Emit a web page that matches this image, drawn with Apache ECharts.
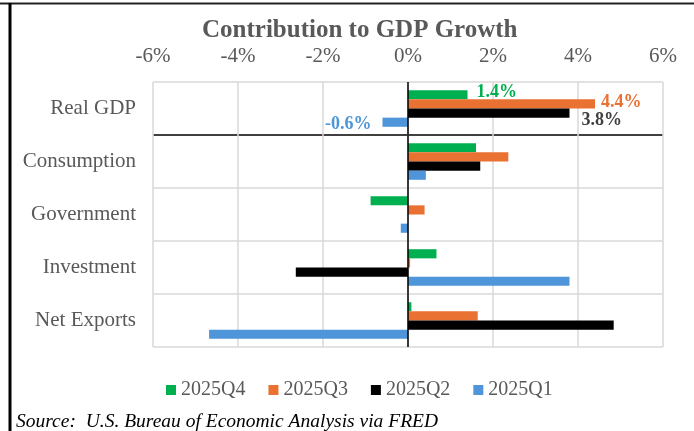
<!DOCTYPE html>
<html>
<head>
<meta charset="utf-8">
<script src="https://cdn.jsdelivr.net/npm/echarts@6/dist/echarts.min.js"></script>
<style>
html,body{margin:0;padding:0;background:#fff;}
#c{width:694px;height:431px;}
</style>
</head>
<body>
<div id="c"></div>
<script>
const categories = ['Real GDP', 'Consumption', 'Government', 'Investment', 'Net Exports'];
const seriesNames = ['2025Q4', '2025Q3', '2025Q2', '2025Q1'];
const q4 = [1.4, 1.6, -0.88, 0.67, 0.08];
const q3 = [4.4, 2.36, 0.39, 0.05, 1.64];
const q2 = [3.8, 1.7, 0, -2.64, 4.84];
const q1 = [-0.6, 0.42, -0.17, 3.8, -4.68];
const xTicks = [-6, -4, -2, 0, 2, 4, 6];

const FONT = "'Liberation Serif', 'Times New Roman', serif";
const colors = ['#00B050', '#E97132', '#000000', '#4E95D9'];
const labelColors = ['#00B050', '#E97132', '#404040', '#4E95D9'];
const labelOffsets = [[9, -2], [6, -2], [12, 7], [-11, 2]];
const allData = [q4, q3, q2, q1];

const chart = echarts.init(document.getElementById('c'));

const series = allData.map((vals, si) => ({
  name: seriesNames[si],
  type: 'bar',
  barGap: '0%',
  barCategoryGap: '31%',
  itemStyle: { color: colors[si] },
  data: vals.map((v, i) => ({
    value: v,
    label: {
      show: i === 0,
      position: v < 0 ? 'left' : 'right',
      distance: 0,
      offset: labelOffsets[si],
      formatter: p => p.value.toFixed(1) + '%',
      color: labelColors[si],
      fontFamily: FONT,
      fontWeight: 'bold',
      fontSize: 18
    }
  })),
  markLine: si === 0 ? {
    silent: true,
    symbol: ['none', 'none'],
    label: { show: false },
    lineStyle: { color: '#000', width: 1.5, type: 'solid' },
    data: [{ xAxis: 0 }]
  } : undefined
}));

chart.setOption({
  animation: false,
  backgroundColor: '#fff',
  title: {
    text: 'Contribution to GDP Growth',
    left: 197,
    top: 13,
    textStyle: { fontFamily: FONT, fontWeight: 'bold', fontSize: 25, color: '#595959' }
  },
  legend: {
    data: seriesNames,
    left: 161,
    top: 375,
    icon: 'rect',
    itemWidth: 10,
    itemHeight: 10,
    itemGap: 23,
    textStyle: { fontFamily: FONT, fontSize: 20, color: '#595959' }
  },
  grid: { left: 153, right: 31, top: 82, bottom: 84, containLabel: false },
  xAxis: {
    type: 'value',
    position: 'top',
    min: xTicks[0],
    max: xTicks[xTicks.length - 1],
    interval: 2,
    axisLine: { show: false },
    axisTick: { show: false },
    axisLabel: { margin: 15, formatter: '{value}%', fontFamily: FONT, fontSize: 21, color: '#595959' },
    splitLine: { show: true, lineStyle: { color: '#D9D9D9', width: 1.5 } }
  },
  yAxis: {
    type: 'category',
    data: categories,
    inverse: true,
    axisLine: { show: false },
    axisTick: { show: false },
    axisLabel: { margin: 17, fontFamily: FONT, fontSize: 21, color: '#595959' },
    splitLine: { show: true, showMinLine: true, showMaxLine: true,
      lineStyle: { color: ['#D9D9D9', '#000000', '#D9D9D9', '#D9D9D9', '#D9D9D9', '#D9D9D9'], width: 1.5 } }
  },
  series: series,
  graphic: [
    { type: 'line', shape: { x1: 0, y1: 3.5, x2: 694, y2: 3.5 }, style: { stroke: '#222', lineWidth: 2 }, silent: true },
    { type: 'line', shape: { x1: 10, y1: 3, x2: 10, y2: 431 }, style: { stroke: '#000', lineWidth: 3 }, silent: true },
    { type: 'text', left: 16, top: 412, style: { text: 'Source:  U.S. Bureau of Economic Analysis via FRED', font: 'italic 19.5px ' + FONT, fill: '#000' }, silent: true }
  ]
});
</script>
</body>
</html>
